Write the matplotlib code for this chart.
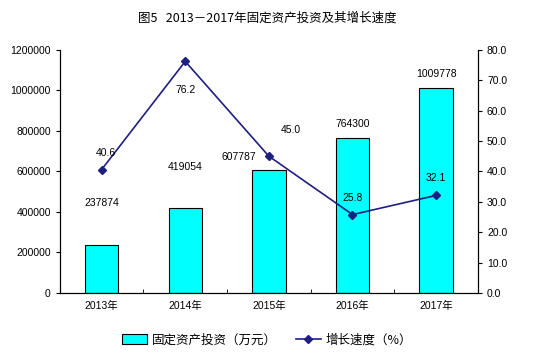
import matplotlib.pyplot as plt
import numpy as np
from matplotlib.patches import Patch
from matplotlib.lines import Line2D

plt.rcParams['font.family'] = ['Liberation Sans', 'Noto Sans CJK SC', 'DejaVu Sans']

years = ["2013年", "2014年", "2015年", "2016年", "2017年"]
invest = [237874, 419054, 607787, 764300, 1009778]
growth = [40.6, 76.2, 45.0, 25.8, 32.1]

# label offsets in pixels (dx, dy)
bar_off = [(0, 42), (0, 41), (-30, 13), (0, 14), (0, 14)]
line_off = [(4, 17), (0, -29), (22, 26), (0, 17), (0, 17)]

fig = plt.figure(figsize=(5.34, 3.56), dpi=100)
ax = fig.add_axes([0.112, 0.177, 0.783, 0.683])
x = np.arange(len(years))

ax.bar(x, invest, width=0.4, color="#00FFFF", edgecolor="black", linewidth=0.8, zorder=2)
ax.set_xlim(-0.5, 4.5)
ax.set_ylim(0, 1200000)
ax.set_yticks(np.arange(0, 1200001, 200000))
ax.set_yticklabels([str(t) for t in range(0, 1200001, 200000)])
ax.set_xticks(x)
ax.set_xticklabels(years, fontsize=7.5)
ax.set_xticks(np.arange(-0.5, 4.6, 1), minor=True)
ax.tick_params(axis="x", which="major", length=0, pad=6)
ax.tick_params(axis="x", which="minor", direction="in", length=3)
ax.tick_params(axis="y", labelsize=7.5, length=3)
ax.spines["top"].set_visible(False)
for s in ax.spines.values():
    s.set_linewidth(0.8)

for i, v in enumerate(invest):
    ax.annotate(str(v), (x[i], v), xytext=(bar_off[i][0] * 0.72, bar_off[i][1] * 0.72),
                textcoords="offset points", ha="center", va="center", fontsize=7.5)

ax2 = ax.twinx()
ax2.plot(x, growth, color="#1F1F80", linewidth=1.2, marker="D", markersize=4, zorder=3)
ax2.set_ylim(0, 80)
ax2.set_yticks(np.arange(0, 81, 10))
ax2.set_yticklabels([f"{t:.1f}" for t in np.arange(0, 81, 10)])
ax2.tick_params(axis="y", labelsize=7.5, length=3)
ax2.spines["top"].set_visible(False)
for s in ax2.spines.values():
    s.set_linewidth(0.8)

for i, v in enumerate(growth):
    ax2.annotate(f"{v:.1f}", (x[i], v), xytext=(line_off[i][0] * 0.72, line_off[i][1] * 0.72),
                 textcoords="offset points", ha="center", va="center", fontsize=7.5)

fig.text(0.5, 0.95, "图5   2013－2017年固定资产投资及其增长速度", ha="center", va="center",
         fontsize=9, family=["Noto Sans CJK SC", "DejaVu Sans"])

handles = [Patch(facecolor="#00FFFF", edgecolor="black", linewidth=0.8),
           Line2D([0], [0], color="#1F1F80", linewidth=1.2, marker="D", markersize=4)]
fig.legend(handles, ["固定资产投资（万元）", "增长速度（%）"], loc="center", bbox_to_anchor=(0.5, 0.045),
           ncol=2, frameon=False, prop={"family": ["Noto Sans CJK SC", "DejaVu Sans"], "size": 9},
           handlelength=2.0, handleheight=0.8, columnspacing=1.5, handletextpad=0.4)

fig.savefig("out.png", dpi=100)
